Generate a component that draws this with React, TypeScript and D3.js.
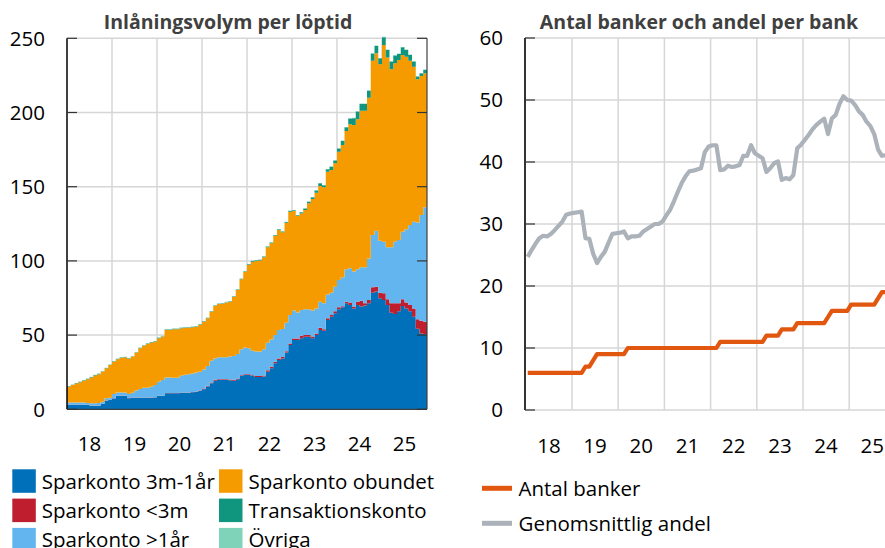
import React, { useEffect, useRef } from 'react';
import * as d3 from 'd3';

// monthly data, Jan 2018 - Dec 2025 (left), Jan 2018 - Oct 2025 (right)
const yearLabels = ['18', '19', '20', '21', '22', '23', '24', '25'];
const leftTicks = [0, 50, 100, 150, 200, 250];
const rightTicks = [0, 10, 20, 30, 40, 50, 60];

const seriesNames = ['Sparkonto 3m-1år', 'Sparkonto <3m', 'Sparkonto >1år', 'Sparkonto obundet', 'Transaktionskonto', 'Övriga'];
const seriesColors = ['#0070BA', '#BE1E2D', '#63B5F0', '#F59B00', '#10967E', '#7FD3B9'];

const sparkonto3m1ar = [
  2.9, 2.9, 2.9, 2.9, 2.9, 2.9, 2.4, 2.2, 2.4, 3.6, 5.8, 6.3,
  7.2, 9, 9, 9, 7.4, 7.8, 7.8, 7.8, 7.8, 7.8, 7.8, 8,
  9, 9, 10.8, 10.8, 10.8, 10.8, 11.2, 11.2, 11.2, 11.5, 11.8, 12.4,
  13.5, 15.3, 17.5, 19.3, 19.7, 19.7, 19.7, 19.5, 19.3, 20.2, 22.4, 23.1,
  23.1, 22.4, 21.8, 21.8, 22.1, 25.3, 27.6, 31, 33.2, 34.3, 38.2, 43.3,
  46.7, 46.7, 47.8, 48.9, 48.9, 47.8, 50, 53.4, 53, 60.2, 62.4, 64.7,
  67.4, 68.7, 71.4, 70.3, 68, 70.3, 69.2, 70, 71.4, 78.6, 79.3, 74.8,
  73.7, 70.3, 65.1, 64.2, 66, 69.6, 68, 66, 62.4, 54.3, 51, 50.5
];
const sparkontoUnder3m = [
  0.2, 0.2, 0.2, 0.2, 0.2, 0.2, 0.2, 0.2, 0.2, 0.2, 0.2, 0.2,
  0.2, 0.2, 0.2, 0.2, 0.2, 0.2, 0.2, 0.2, 0.2, 0.2, 0.2, 0.2,
  0.2, 0.2, 0.2, 0.2, 0.2, 0.2, 0.2, 0.2, 0.2, 0.2, 0.2, 0.2,
  0.6, 0.6, 0.6, 0.6, 0.6, 0.6, 0.6, 0.6, 0.6, 0.6, 0.6, 0.6,
  0.6, 0.6, 0.6, 0.6, 0.6, 1, 1, 1, 1, 1, 1, 1,
  1, 1, 1.7, 1.1, 1.1, 1.2, 1, 1.6, 1, 1.1, 1.2, 1.3,
  1.3, 0.8, 1.1, 1.6, 1.2, 2.2, 4, 1.5, 2.3, 3.6, 3.3, 3.8,
  4.5, 3.9, 6.3, 7.2, 5.4, 4.6, 3.9, 4.3, 5.6, 6.3, 8.6, 8.5
];
const sparkontoOver1ar = [
  1.4, 1.4, 1.4, 1.4, 1.4, 1.2, 1.4, 1.6, 1.6, 1.3, 1.4, 1.3,
  2.9, 2.2, 2.2, 2.2, 2.7, 3.2, 4.6, 5.7, 6.6, 6.6, 7.2, 8.1,
  9.4, 10.5, 10.5, 10.5, 10.3, 10.3, 11.2, 11.8, 12.3, 12.5, 12.8, 12.7,
  12.8, 13.3, 14.7, 14.4, 14.7, 14.7, 14.7, 15.4, 16, 16.4, 17.4, 18,
  17.4, 16.4, 16.5, 16.5, 17.7, 18.6, 18.5, 18, 19.2, 18.8, 19.2, 19.2,
  18.8, 17.5, 17.4, 17.4, 17.4, 17.5, 17, 17.5, 17.4, 16.1, 15, 16.6,
  18.4, 19.5, 21.8, 23.1, 23.6, 21.8, 22.6, 24.3, 28, 35.3, 37.8, 35,
  34.7, 35, 37.8, 41.5, 42.6, 45.5, 49.4, 53.9, 58.4, 65.2, 71.3, 77.1
];
const sparkontoObundet = [
  10.7, 11.8, 12.9, 13.8, 14.7, 16, 17.5, 18.8, 19.5, 20.3, 20.2, 22,
  21.8, 22.3, 23.2, 23.6, 23.8, 24.3, 25.6, 27.4, 28.1, 29.4, 29.8, 29.3,
  29.3, 29.3, 31.9, 31.9, 32.6, 32.7, 32, 31.6, 31.3, 31.1, 30.8, 31.7,
  32.1, 32.1, 33, 35.3, 35.9, 36.2, 36.9, 37, 40, 43.2, 47.2, 51,
  56.1, 60.1, 61, 61.3, 62, 64.3, 64.8, 66.8, 67.4, 65.2, 67.3, 69.7,
  67.1, 65.1, 65.1, 66.9, 71.4, 75.2, 78, 78, 78.2, 82.7, 82.7, 83.2,
  86.5, 89.1, 93.2, 97, 98.8, 101.1, 105.4, 105.4, 108.3, 117.4, 119.5, 118.9,
  132.6, 127.8, 119.9, 120.3, 121.4, 119, 116.3, 110.7, 104.5, 96.6, 93.7, 90.3
];
const transaktionskonto = [
  0.3, 0.3, 0.3, 0.3, 0.3, 0.3, 0.3, 0.3, 0.3, 0.3, 0.3, 0.3,
  0.3, 0.3, 0.3, 0.3, 0.3, 0.3, 0.3, 0.3, 0.3, 0.3, 0.3, 0.3,
  0.3, 0.3, 0.3, 0.3, 0.3, 0.3, 0.3, 0.3, 0.3, 0.3, 0.3, 0.3,
  0.3, 0.3, 0.3, 0.3, 0.3, 0.3, 0.3, 0.3, 0.3, 0.3, 0.3, 0.3,
  0.5, 0.5, 0.5, 0.5, 0.5, 0.5, 0.5, 0.5, 0.5, 0.5, 0.5, 0.5,
  0.5, 0.5, 0.8, 1, 1, 1.2, 1.5, 1.8, 1.3, 1.6, 2.2, 1.8,
  2.2, 2.7, 2.5, 4, 4.5, 5.2, 4.5, 4.5, 4.7, 4.9, 4.9, 4,
  5.2, 5.2, 5.2, 5.2, 4, 5.2, 4.5, 3.8, 3.4, 1.8, 1.8, 2.2
];
const ovriga = [
  0.1, 0.1, 0.1, 0.1, 0.1, 0.1, 0.1, 0.1, 0.1, 0.1, 0.1, 0.1,
  0.1, 0.1, 0.1, 0.1, 0.1, 0.1, 0.1, 0.1, 0.1, 0.1, 0.1, 0.1,
  0.2, 0.2, 0.2, 0.2, 0.2, 0.2, 0.2, 0.2, 0.2, 0.2, 0.2, 0.2,
  0.2, 0.2, 0.2, 0.2, 0.2, 0.2, 0.2, 0.2, 0.2, 0.2, 0.2, 0.2,
  0.2, 0.2, 0.2, 0.2, 0.2, 0.2, 0.2, 0.2, 0.2, 0.2, 0.2, 0.2,
  0.2, 0.2, 0.2, 0.2, 0.2, 0.2, 0.2, 0.2, 0.2, 0.2, 0.2, 0.2,
  0.3, 0.3, 0.3, 0.3, 0.3, 0.3, 0.3, 0.3, 0.3, 0.3, 0.3, 0.3,
  0.3, 0.3, 0.3, 0.3, 0.3, 0.3, 0.3, 0.3, 0.3, 0.3, 0.3, 0.3
];

const antalBanker = [
  6, 6, 6, 6, 6, 6, 6, 6, 6, 6, 6, 6,
  6, 6, 6, 7, 7, 8, 9, 9, 9, 9, 9, 9,
  9, 9, 10, 10, 10, 10, 10, 10, 10, 10, 10, 10,
  10, 10, 10, 10, 10, 10, 10, 10, 10, 10, 10, 10,
  10, 10, 11, 11, 11, 11, 11, 11, 11, 11, 11, 11,
  11, 11, 12, 12, 12, 12, 13, 13, 13, 13, 14, 14,
  14, 14, 14, 14, 14, 14, 15, 16, 16, 16, 16, 16,
  17, 17, 17, 17, 17, 17, 17, 18, 19, 19
];
const genomsnittligAndel = [
  24.7, 25.8, 26.8, 27.7, 28.1, 28, 28.4, 29, 29.7, 30.4, 31.5, 31.7,
  31.8, 31.9, 32, 27.7, 27.6, 25.2, 23.7, 24.7, 25.5, 27, 28.4, 28.5,
  28.6, 28.8, 27.7, 28, 28, 28.1, 28.8, 29.2, 29.6, 30, 30, 30.4,
  31.4, 32.3, 33.7, 35.2, 36.6, 37.7, 38.5, 38.6, 38.8, 39, 41.6, 42.5,
  42.7, 42.7, 38.7, 38.8, 39.4, 39.2, 39.3, 39.5, 41, 41, 42.7, 41.4,
  41, 40.6, 38.4, 39, 39.8, 40.1, 37.1, 37.4, 37.2, 37.9, 42.2, 42.8,
  43.6, 44.4, 45.3, 46, 46.5, 47, 44.5, 47, 47.6, 49.4, 50.6, 50,
  49.9, 49.2, 48.2, 47.6, 46.5, 45.8, 44.5, 42, 41, 41.1
];
const lineNames = ['Antal banker', 'Genomsnittlig andel'];
const lineColors = ['#E2570F', '#ABB2B9'];

export default function App() {
  const svgRef = useRef<SVGSVGElement>(null);
  const width = 885;
  const height = 548;
  const font = '"Open Sans", "Noto Sans", sans-serif';
  const gridColor = '#D6D6D6';

  useEffect(() => {
    const svg = d3.select(svgRef.current);
    svg.selectAll('*').remove();
    svg.append('rect').attr('width', width).attr('height', height).attr('fill', '#fff');

    // ---------- left: Inlåningsvolym per löptid ----------
    const nMonths = 96;
    const x = d3.scaleLinear().domain([0, nMonths]).range([67, 427]);
    const y = d3.scaleLinear().domain([0, 250]).range([409.3, 38.3]);
    const gl = svg.append('g');

    gl.selectAll('.hgrid').data(leftTicks).enter().append('line')
      .attr('x1', x(0)).attr('x2', x(nMonths))
      .attr('y1', d => y(d)).attr('y2', d => y(d))
      .attr('stroke', gridColor).attr('stroke-width', 1.5);
    gl.selectAll('.vgrid').data(yearLabels.slice(1)).enter().append('line')
      .attr('x1', (d, i) => x((i + 1) * 12)).attr('x2', (d, i) => x((i + 1) * 12))
      .attr('y1', y(0)).attr('y2', y(250))
      .attr('stroke', gridColor).attr('stroke-width', 1.5);

    const seriesData = [sparkonto3m1ar, sparkontoUnder3m, sparkontoOver1ar, sparkontoObundet, transaktionskonto, ovriga];
    const rows = sparkonto3m1ar.map((_, i) => {
      const r: any = { i };
      seriesNames.forEach((k, j) => { r[k] = seriesData[j][i]; });
      return r;
    });
    const stacked = d3.stack().keys(seriesNames)(rows);
    const area = d3.area<any>()
      .x((d, i) => x(i))
      .y0(d => y(d[0]))
      .y1(d => y(d[1]))
      .curve(d3.curveStepAfter);

    gl.selectAll('.layer').data(stacked).enter().append('path')
      .attr('d', s => area([...s, s[s.length - 1]]))
      .attr('fill', (s, i) => seriesColors[i]);

    // frame
    gl.append('line').attr('x1', x(0)).attr('x2', x(0)).attr('y1', y(250)).attr('y2', y(0))
      .attr('stroke', '#000').attr('stroke-width', 1.5);
    gl.append('line').attr('x1', x(nMonths)).attr('x2', x(nMonths)).attr('y1', y(250)).attr('y2', y(0))
      .attr('stroke', '#404040').attr('stroke-width', 1.2);
    gl.append('line').attr('x1', x(0)).attr('x2', x(nMonths)).attr('y1', y(0)).attr('y2', y(0))
      .attr('stroke', '#404040').attr('stroke-width', 1.2);
    gl.selectAll('.ltick').data(leftTicks).enter().append('line')
      .attr('x1', x(0)).attr('x2', x(0) + 10).attr('y1', d => y(d)).attr('y2', d => y(d))
      .attr('stroke', '#333').attr('stroke-width', 1.2);
    gl.selectAll('.rtick').data(leftTicks).enter().append('line')
      .attr('x1', x(nMonths) - 10).attr('x2', x(nMonths)).attr('y1', d => y(d)).attr('y2', d => y(d))
      .attr('stroke', '#333').attr('stroke-width', 1.2);

    gl.selectAll('.ylab').data(leftTicks).enter().append('text')
      .attr('x', 45).attr('y', d => y(d)).attr('dy', '0.36em')
      .attr('text-anchor', 'end').attr('font-family', font).attr('font-size', 20.5)
      .attr('fill', '#000').text(d => d);
    gl.selectAll('.xlab').data(yearLabels).enter().append('text')
      .attr('x', (d, i) => x(i * 12 + 6)).attr('y', 450.5)
      .attr('text-anchor', 'middle').attr('font-family', font).attr('font-size', 20.5)
      .attr('fill', '#000').text(d => d);

    gl.append('text').attr('x', 228).attr('y', 29.3)
      .attr('text-anchor', 'middle').attr('font-family', font).attr('font-size', 19.5)
      .attr('font-weight', 'bold').attr('fill', '#404040')
      .text('Inlåningsvolym per löptid');

    // legend
    const lg = gl.selectAll('.leg').data(seriesNames).enter().append('g')
      .attr('transform', (d, i) => `translate(${i < 3 ? 12.3 : 219}, ${469.3 + (i % 3) * 29.3})`);
    lg.append('rect').attr('width', 23.5).attr('height', 23.5).attr('fill', (d, i) => seriesColors[i]);
    lg.append('text').attr('x', 29.5).attr('y', 19.2)
      .attr('font-family', font).attr('font-size', 20.5).attr('fill', '#000')
      .text(d => d);

    // ---------- right: Antal banker och andel per bank ----------
    const x2 = d3.scaleLinear().domain([0, nMonths]).range([525.8, 895.4]);
    const y2 = d3.scaleLinear().domain([0, 60]).range([410, 38]);
    const gr = svg.append('g');

    gr.selectAll('.hgrid').data(rightTicks).enter().append('line')
      .attr('x1', x2(0)).attr('x2', x2(nMonths))
      .attr('y1', d => y2(d)).attr('y2', d => y2(d))
      .attr('stroke', gridColor).attr('stroke-width', 1.5);
    gr.selectAll('.vgrid').data(yearLabels.slice(1)).enter().append('line')
      .attr('x1', (d, i) => x2((i + 1) * 12)).attr('x2', (d, i) => x2((i + 1) * 12))
      .attr('y1', y2(0)).attr('y2', y2(60))
      .attr('stroke', gridColor).attr('stroke-width', 1.5);

    const line = d3.line<number>()
      .x((d, i) => x2(i + 0.5))
      .y(d => y2(d));
    gr.append('path').attr('d', line(genomsnittligAndel))
      .attr('fill', 'none').attr('stroke', lineColors[1]).attr('stroke-width', 4.2)
      .attr('stroke-linejoin', 'round');
    gr.append('path').attr('d', line(antalBanker))
      .attr('fill', 'none').attr('stroke', lineColors[0]).attr('stroke-width', 4.2)
      .attr('stroke-linejoin', 'round');

    gr.append('line').attr('x1', 525).attr('x2', 525).attr('y1', y2(60)).attr('y2', y2(0))
      .attr('stroke', '#000').attr('stroke-width', 1.6);
    gr.selectAll('.ltick').data(rightTicks).enter().append('line')
      .attr('x1', 525).attr('x2', 535).attr('y1', d => y2(d)).attr('y2', d => y2(d))
      .attr('stroke', '#333').attr('stroke-width', 1.2);

    gr.selectAll('.ylab').data(rightTicks).enter().append('text')
      .attr('x', 503).attr('y', d => y2(d)).attr('dy', '0.36em')
      .attr('text-anchor', 'end').attr('font-family', font).attr('font-size', 20.5)
      .attr('fill', '#000').text(d => d);
    gr.selectAll('.xlab').data(yearLabels).enter().append('text')
      .attr('x', (d, i) => x2(i * 12 + 6)).attr('y', 452.5)
      .attr('text-anchor', 'middle').attr('font-family', font).attr('font-size', 20.5)
      .attr('fill', '#000').text(d => d);

    gr.append('text').attr('x', 699).attr('y', 29.3)
      .attr('text-anchor', 'middle').attr('font-family', font).attr('font-size', 19.5)
      .attr('font-weight', 'bold').attr('fill', '#404040')
      .text('Antal banker och andel per bank');

    const rl = gr.selectAll('.leg').data(lineNames).enter().append('g')
      .attr('transform', (d, i) => `translate(482, ${488.3 + i * 35})`);
    rl.append('line').attr('x1', 0).attr('x2', 30).attr('y1', 0).attr('y2', 0)
      .attr('stroke', (d, i) => lineColors[i]).attr('stroke-width', 5);
    rl.append('text').attr('x', 36.5).attr('y', 7.6)
      .attr('font-family', font).attr('font-size', 20.5).attr('fill', '#000')
      .text(d => d);
  }, []);

  return (
    <div style={{ position: 'absolute', left: 0, top: 0 }}>
      <svg ref={svgRef} width={width} height={height} style={{ display: 'block' }}></svg>
    </div>
  );
}
